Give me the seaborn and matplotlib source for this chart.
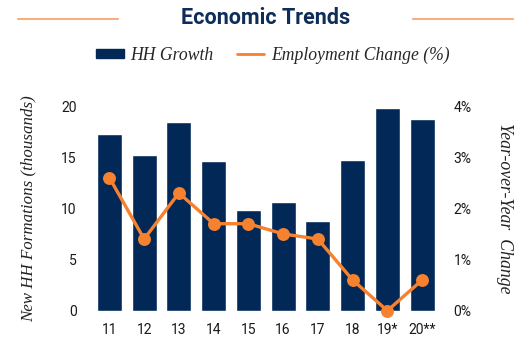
import matplotlib
matplotlib.use("Agg")
import matplotlib.pyplot as plt
from matplotlib.lines import Line2D
from matplotlib.patches import Patch
import seaborn as sns
import pandas as pd

# Data
years = ["11", "12", "13", "14", "15", "16", "17", "18", "19*", "20**"]
hh_growth = [17.3, 15.2, 18.4, 14.6, 9.8, 10.6, 8.8, 14.7, 19.8, 18.7]
employment_change = [2.6, 1.4, 2.3, 1.7, 1.7, 1.5, 1.4, 0.6, 0.0, 0.6]
left_ticks = [0, 5, 10, 15, 20]
right_ticks = [0, 1, 2, 3, 4]

NAVY = "#012856"
ORANGE = "#f6822f"
TITLE_NAVY = "#0f2d59"
DECOR = "#f8ad80"

sns.set_style("white")
plt.rcParams["font.family"] = ["Roboto", "DejaVu Sans"]

df = pd.DataFrame({"year": years, "hh": hh_growth, "emp": employment_change})

fig = plt.figure(figsize=(5.22, 3.41), dpi=100)
ax = fig.add_axes([92 / 522, 1 - 310.7 / 341, (439.5 - 92) / 522, (310.7 - 106) / 341])

sns.barplot(data=df, x="year", y="hh", color=NAVY, saturation=1, width=0.72, ax=ax)
ax.set_ylim(0, 20)
ax.set_xlim(-0.5, 9.5)
ax.set_yticks(left_ticks)
ax.set_yticklabels([str(t) for t in left_ticks])

ax2 = ax.twinx()
sns.pointplot(data=df, x="year", y="emp", color=ORANGE, markers="o",
              markersize=7.5, linewidth=2.4, ax=ax2, zorder=5)
ax2.set_ylim(0, 4)
ax2.set_yticks(right_ticks)
ax2.set_yticklabels([f"{t}%" for t in right_ticks])
ax2.set_xlim(-0.5, 9.5)
for c in ax2.collections:
    c.set_clip_on(False)
for l in ax2.lines:
    l.set_clip_on(False)

for a in (ax, ax2):
    for s in a.spines.values():
        s.set_visible(False)
    a.tick_params(length=0, labelsize=10, colors="#1a1a1a")
    a.grid(False)
    a.set_xlabel("")
ax.tick_params(axis="y", pad=11)
ax2.tick_params(axis="y", pad=10)
ax.tick_params(axis="x", pad=9)

serif = ["Liberation Serif", "DejaVu Serif"]
ax.set_ylabel("New HH Formations (thousands)", family=serif, style="italic",
              fontsize=12.2, color="#222222", labelpad=18)
ax2.set_ylabel("Year-over-Year  Change", family=serif, style="italic",
               fontsize=12.8, color="#222222", rotation=270, labelpad=30)

# Title with decorative rules on either side
fig.text(266 / 522, 1 - 18.5 / 341, "Economic Trends", ha="center", va="center",
         fontsize=15.5, fontweight="bold", color=TITLE_NAVY,
         family=["Roboto", "DejaVu Sans"])
fig.add_artist(Line2D([18 / 522, 118 / 522], [1 - 19 / 341] * 2, color=DECOR, lw=1.5))
fig.add_artist(Line2D([413 / 522, 513 / 522], [1 - 19 / 341] * 2, color=DECOR, lw=1.5))

handles = [Patch(facecolor=NAVY, edgecolor=NAVY),
           Line2D([0], [0], color=ORANGE, lw=2)]
fig.legend(handles, ["HH Growth", "Employment Change (%)"], loc="center",
           bbox_to_anchor=(273 / 522, 1 - 55 / 341), ncol=2, frameon=False,
           prop={"family": serif, "style": "italic", "size": 12.7},
           handlelength=1.55, handleheight=0.4, columnspacing=1.3, handletextpad=0.4)

fig.savefig("out.png", dpi=100)
